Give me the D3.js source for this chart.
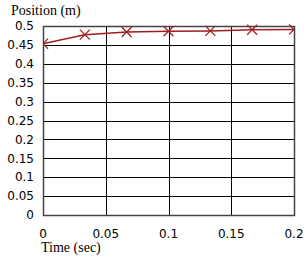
<!DOCTYPE html>
<html>
<head>
<meta charset="utf-8">
<script src="https://cdn.jsdelivr.net/npm/d3@7.9.0/dist/d3.min.js"></script>
<style>
  body { margin: 0; background: #fff; }
  svg { display: block; }
</style>
</head>
<body>
<svg id="chart" width="307" height="263"></svg>
<script>
// data
const times = [0, 1 / 30, 2 / 30, 3 / 30, 4 / 30, 5 / 30, 6 / 30];
const positions = [0.453, 0.477, 0.484, 0.486, 0.487, 0.490, 0.491];
const xTicks = [0, 0.05, 0.1, 0.15, 0.2];
const yTicks = [0, 0.05, 0.1, 0.15, 0.2, 0.25, 0.3, 0.35, 0.4, 0.45, 0.5];

const svg = d3.select('#chart');
const plotLeft = 43, plotRight = 294, plotTop = 26, plotBottom = 215;

const x = d3.scaleLinear().domain([0, 0.2]).range([plotLeft, plotRight]);
const y = d3.scaleLinear().domain([0, 0.5]).range([plotBottom, plotTop]);

// grid
svg.append('g').selectAll('line').data(yTicks).join('line')
  .attr('x1', plotLeft).attr('x2', plotRight)
  .attr('y1', d => Math.round(y(d)) + 0.5).attr('y2', d => Math.round(y(d)) + 0.5)
  .attr('stroke', '#000').attr('stroke-width', 1);
svg.append('g').selectAll('line').data(xTicks).join('line')
  .attr('y1', plotTop).attr('y2', plotBottom)
  .attr('x1', d => Math.round(x(d)) + 0.5).attr('x2', d => Math.round(x(d)) + 0.5)
  .attr('stroke', '#000').attr('stroke-width', 1);

// frame
svg.append('rect')
  .attr('x', plotLeft + 0.5).attr('y', plotTop + 0.5)
  .attr('width', plotRight - plotLeft).attr('height', plotBottom - plotTop)
  .attr('fill', 'none').attr('stroke', '#444').attr('stroke-width', 1.5);

// tick labels
svg.append('g').selectAll('text').data(yTicks).join('text')
  .attr('x', 34).attr('y', d => y(d))
  .attr('dy', '0.35em')
  .attr('text-anchor', 'end')
  .attr('font-family', 'DejaVu Sans').attr('font-size', 12)
  .text(d => d3.format('')(d));
svg.append('g').selectAll('text').data(xTicks).join('text')
  .attr('x', d => x(d)).attr('y', 234)
  .attr('dy', '0.35em')
  .attr('text-anchor', 'middle')
  .attr('font-family', 'DejaVu Sans').attr('font-size', 12)
  .text(d => d3.format('')(d));

// axis titles
svg.append('text').attr('x', 11).attr('y', 15)
  .attr('font-family', 'Liberation Serif').attr('font-size', 14)
  .text('Position (m)');
svg.append('text').attr('x', 41).attr('y', 252)
  .attr('font-family', 'Liberation Serif').attr('font-size', 14)
  .text('Time (sec)');

// series
svg.append('clipPath').attr('id', 'clip')
  .append('rect').attr('x', plotLeft + 1).attr('y', plotTop - 10)
  .attr('width', plotRight - plotLeft - 1).attr('height', plotBottom - plotTop + 10);

const pts = times.map((t, i) => [t, positions[i]]);
const g = svg.append('g').attr('clip-path', 'url(#clip)');
g.append('path')
  .datum(pts)
  .attr('d', d3.line().x(d => x(d[0])).y(d => y(d[1])))
  .attr('fill', 'none').attr('stroke', '#a01c1c').attr('stroke-width', 1.5);

const s = 5;
g.selectAll('path.mark').data(pts).join('path')
  .attr('class', 'mark')
  .attr('d', d => {
    const cx = x(d[0]), cy = y(d[1]);
    return `M${cx - s},${cy - s}L${cx + s},${cy + s}M${cx - s},${cy + s}L${cx + s},${cy - s}`;
  })
  .attr('stroke', '#a01c1c').attr('stroke-width', 1.2).attr('fill', 'none');
</script>
</body>
</html>
